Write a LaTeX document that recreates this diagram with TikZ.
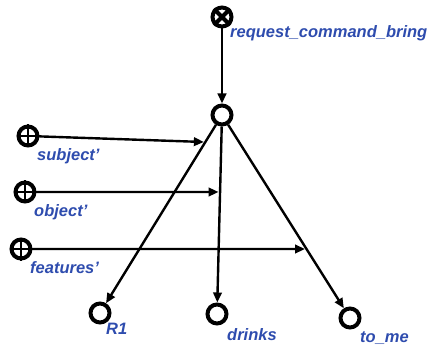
\documentclass[tikz,border=0pt]{standalone}
\usepackage{fontspec}
\setmainfont{Liberation Sans}
\usetikzlibrary{arrows.meta,calc}
\definecolor{lblblue}{HTML}{2E4CAE}
\begin{document}
\begin{tikzpicture}[x=1pt,y=-1pt,
  place/.style={circle,draw=black,fill=white,line width=4pt,minimum size=19pt,inner sep=0pt},
  lbl/.style={text=lblblue,font=\bfseries\itshape\fontsize{16.5}{18}\selectfont,inner sep=0pt},
  arr/.style={line width=2.4pt,-{Triangle[length=10pt,width=8.5pt]}},
  ln/.style={line width=2.4pt}]
\useasboundingbox (0,0) rectangle (433,347);
% places
\node[place] (top) at (222,17) {};
\node[place] (c) at (222,115) {};
\node[place] (sub) at (28,136) {};
\node[place] (obj) at (25,192) {};
\node[place] (feat) at (21,249) {};
\node[place] (r1) at (100,313) {};
\node[place] (dr) at (217,314) {};
\node[place] (tm) at (350,318) {};
% marks inside
\draw[line width=4pt] (top.north west) -- (top.south east) (top.north east) -- (top.south west);
\foreach \n in {sub,obj,feat}{
  \draw[line width=2.4pt] (\n.north) -- (\n.south) (\n.west) -- (\n.east);
}
% labels
\node[lbl,anchor=base west] (ltop) at (230,38) {request\_command\_bring};
\node[lbl,anchor=base west] (lsub) at (37,161) {subject'};
\node[lbl,anchor=base west] (lobj) at (34,217) {object'};
\node[lbl,anchor=base west] (lfeat) at (30,273) {features'};
\node[lbl,anchor=base west] (lr1) at (106,334) {R1};
\node[lbl,anchor=base west] (ldr) at (227,340) {drinks};
\node[lbl,anchor=base west] (ltm) at (360,342) {to\_me};
% connectors
\draw[arr] (top) -- (c);
\draw[arr] (c) -- (r1);
\draw[arr] (c) -- (dr);
\draw[arr] (c) -- (tm);
\coordinate (ps) at (intersection cs:first line={(c)--(r1)},second line={(0,142)--(400,142)});
\coordinate (po) at (intersection cs:first line={(c)--(dr)},second line={(0,192)--(400,192)});
\coordinate (pf) at (intersection cs:first line={(c)--(tm)},second line={(0,249)--(400,249)});
\draw[arr] (sub) -- ([xshift=-1.5pt]ps);
\draw[arr] (obj) -- ([xshift=-1.5pt]po);
\draw[arr] (feat) -- ([xshift=-1.5pt]pf);
\end{tikzpicture}
\end{document}
